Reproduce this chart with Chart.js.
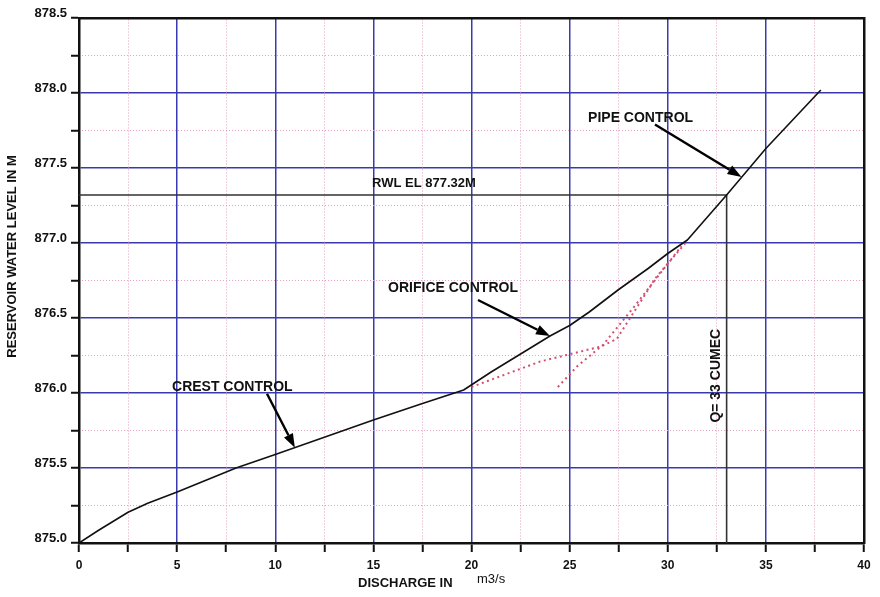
<!DOCTYPE html>
<html>
<head>
<meta charset="utf-8">
<script src="https://cdn.jsdelivr.net/npm/chart.js@4/dist/chart.umd.min.js"></script>
<style>
  html, body { margin: 0; padding: 0; background: #fff; }
  #wrap { width: 880px; height: 597px; position: relative; }
</style>
</head>
<body>
<div id="wrap"><canvas id="c" width="880" height="597"></canvas></div>
<script>
// ---- data ----
const dischargeMain = [0, 1, 2, 2.5, 3.5, 5, 6.5, 8, 10, 12.5, 15, 17.5, 19.6, 21, 22.5, 24, 25, 26, 27.5, 29, 30, 31, 33, 35, 37.8];
const levelMain     = [875.0, 875.085, 875.165, 875.205, 875.265, 875.34, 875.42, 875.50, 875.59, 875.705, 875.82, 875.93, 876.02, 876.14, 876.26, 876.38, 876.45, 876.54, 876.69, 876.83, 876.93, 877.02, 877.32, 877.63, 878.02];

const dischargeDotA = [20.0, 23.5, 26.6, 27.4, 29.4, 30.9];
const levelDotA     = [876.04, 876.21, 876.31, 876.36, 876.77, 877.0];

const dischargeDotB = [24.4, 25.4, 26.7, 28.5, 30.7];
const levelDotB     = [876.04, 876.18, 876.32, 876.61, 876.98];

const rwlLevel = 877.32;
const designQ = 33;

const xTickLabels = [0, 5, 10, 15, 20, 25, 30, 35, 40];
const yTickLabels = ['875.0', '875.5', '876.0', '876.5', '877.0', '877.5', '878.0', '878.5'];

const xTitle = 'DISCHARGE IN';
const xUnit = 'm3/s';
const yTitle = 'RESERVOIR WATER LEVEL IN M';

// annotation texts (anchored in data units)
const notes = [
  { text: 'PIPE CONTROL',    x: 25.94, y: 877.83, from: [29.35, 877.79], to: [33.76, 877.44] },
  { text: 'ORIFICE CONTROL', x: 15.75, y: 876.70, from: [20.33, 876.62], to: [24.0, 876.38] },
  { text: 'CREST CONTROL',   x: 4.74,  y: 876.04, from: [9.58, 875.995], to: [11.0, 875.635] }
];
const rwlText = 'RWL EL 877.32M';
const qText = 'Q= 33 CUMEC';

// ---- build ----
const toPts = (xs, ys) => xs.map((x, i) => ({ x, y: ys[i] }));
const FONT = '"Liberation Sans", Arial, sans-serif';
const BLUE = '#3a3ab0';
const PINK = '#e2a2c0';

const isMajorX = v => Math.abs(v / 5 - Math.round(v / 5)) < 1e-6;
const isMajorY = v => Math.abs(v * 2 - Math.round(v * 2)) < 1e-6;

function arrow(ctx, x1, y1, x2, y2) {
  const ang = Math.atan2(y2 - y1, x2 - x1);
  const hl = 14, hw = 5;
  const bx = x2 - hl * Math.cos(ang), by = y2 - hl * Math.sin(ang);
  ctx.save();
  ctx.strokeStyle = '#000';
  ctx.fillStyle = '#000';
  ctx.lineWidth = 2.4;
  ctx.beginPath();
  ctx.moveTo(x1, y1);
  ctx.lineTo(bx, by);
  ctx.stroke();
  ctx.beginPath();
  ctx.moveTo(x2, y2);
  ctx.lineTo(bx + hw * Math.sin(ang), by - hw * Math.cos(ang));
  ctx.lineTo(bx - hw * Math.sin(ang), by + hw * Math.cos(ang));
  ctx.closePath();
  ctx.fill();
  ctx.restore();
}

const textPlugin = {
  id: 'texts',
  afterDatasetsDraw(chart) {
    const { ctx, scales: { x, y }, chartArea } = chart;
    ctx.save();
    ctx.fillStyle = '#111';
    ctx.textBaseline = 'middle';
    ctx.textAlign = 'left';
    ctx.font = 'bold 14px ' + FONT;
    notes.forEach(n => {
      ctx.fillText(n.text, x.getPixelForValue(n.x), y.getPixelForValue(n.y));
      arrow(ctx, x.getPixelForValue(n.from[0]), y.getPixelForValue(n.from[1]),
                 x.getPixelForValue(n.to[0]), y.getPixelForValue(n.to[1]));
    });
    ctx.font = 'bold 13px ' + FONT;
    ctx.fillText(rwlText, x.getPixelForValue(14.93), y.getPixelForValue(877.40));
    // rotated Q label
    ctx.save();
    ctx.translate(x.getPixelForValue(32.49), y.getPixelForValue(876.115));
    ctx.rotate(-Math.PI / 2);
    ctx.textAlign = 'center';
    ctx.font = 'bold 14px ' + FONT;
    ctx.fillText(qText, 0, 0);
    ctx.restore();
    // axis titles
    ctx.font = 'bold 13px ' + FONT;
    ctx.textAlign = 'left';
    ctx.fillText(xTitle, chartArea.left + 279, 583);
    ctx.font = '13px ' + FONT;
    ctx.fillText(xUnit, chartArea.left + 398, 579);
    ctx.save();
    ctx.translate(12, 256.5);
    ctx.rotate(-Math.PI / 2);
    ctx.textAlign = 'center';
    ctx.font = 'bold 13px ' + FONT;
    ctx.fillText(yTitle, 0, 0);
    ctx.restore();
    ctx.restore();
  }
};

new Chart(document.getElementById('c'), {
  type: 'scatter',
  data: {
    datasets: [
      { data: toPts(dischargeMain, levelMain), showLine: true, borderColor: '#111', borderWidth: 1.6, pointRadius: 0, tension: 0, borderJoinStyle: 'round' },
      { data: toPts(dischargeDotA, levelDotA), showLine: true, borderColor: '#d2506e', borderWidth: 2, borderDash: [2, 3.5], pointRadius: 0 },
      { data: toPts(dischargeDotB, levelDotB), showLine: true, borderColor: '#d2506e', borderWidth: 2, borderDash: [2, 3.5], pointRadius: 0 },
      { data: [{ x: 0, y: rwlLevel }, { x: designQ, y: rwlLevel }, { x: designQ, y: 875 }], showLine: true, borderColor: '#333', borderWidth: 1.6, pointRadius: 0 }
    ]
  },
  options: {
    responsive: false,
    animation: false,
    layout: { padding: { left: 0, top: 18, right: 16, bottom: 0 } },
    plugins: { legend: { display: false }, tooltip: { enabled: false } },
    scales: {
      x: {
        type: 'linear', position: 'bottom', min: 0, max: 40,
        afterFit: s => { s.height = 54; },
        afterBuildTicks: s => { s.ticks = []; for (let v = 0; v <= 40; v += 2.5) s.ticks.push({ value: v }); },
        ticks: {
          autoSkip: false, maxRotation: 0, padding: 6, color: '#111',
          font: { family: FONT, size: 12, weight: 'bold' },
          callback: v => (isMajorX(v) && xTickLabels.includes(v)) ? String(v) : ''
        },
        grid: {
          color: c => (c.tick && isMajorX(c.tick.value) && c.tick.value > 0 && c.tick.value < 40) ? BLUE : 'rgba(0,0,0,0)',
          lineWidth: 1.5, tickColor: '#111', tickLength: 9, tickWidth: 2
        },
        border: { display: true, color: '#111', width: 2.5 }
      },
      y: {
        type: 'linear', position: 'left', min: 875, max: 878.5,
        afterFit: s => { s.width = 79; },
        afterBuildTicks: s => { s.ticks = []; for (let i = 0; i <= 14; i++) s.ticks.push({ value: 875 + i * 0.25 }); },
        ticks: {
          autoSkip: false, padding: 4, color: '#111', labelOffset: -5,
          font: { family: FONT, size: 13, weight: 'bold' },
          callback: v => isMajorY(v) ? yTickLabels[Math.round((v - 875) * 2)] : ''
        },
        grid: {
          color: c => (c.tick && isMajorY(c.tick.value) && c.tick.value > 875.01 && c.tick.value < 878.49) ? BLUE : 'rgba(0,0,0,0)',
          lineWidth: 1.5, tickColor: '#111', tickLength: 8, tickWidth: 2
        },
        border: { display: true, color: '#111', width: 2.5 }
      },
      xMinor: {
        type: 'linear', position: 'top', min: 0, max: 40,
        afterFit: s => { s.height = 0; },
        afterBuildTicks: s => { s.ticks = []; for (let v = 0; v <= 40; v += 2.5) s.ticks.push({ value: v }); },
        ticks: { display: false },
        grid: {
          drawTicks: false, lineWidth: 1,
          color: c => (c.tick && !isMajorX(c.tick.value)) ? PINK : 'rgba(0,0,0,0)'
        },
        border: { display: true, color: '#111', width: 2.5, dash: [1, 2] }
      },
      yMinor: {
        type: 'linear', position: 'right', min: 875, max: 878.5,
        afterFit: s => { s.width = 0; },
        afterBuildTicks: s => { s.ticks = []; for (let i = 0; i <= 14; i++) s.ticks.push({ value: 875 + i * 0.25 }); },
        ticks: { display: false },
        grid: {
          drawTicks: false, lineWidth: 1,
          color: c => (c.tick && !isMajorY(c.tick.value)) ? PINK : 'rgba(0,0,0,0)'
        },
        border: { display: true, color: '#111', width: 2.5, dash: [1, 2] }
      }
    }
  },
  plugins: [textPlugin]
});
</script>
</body>
</html>
